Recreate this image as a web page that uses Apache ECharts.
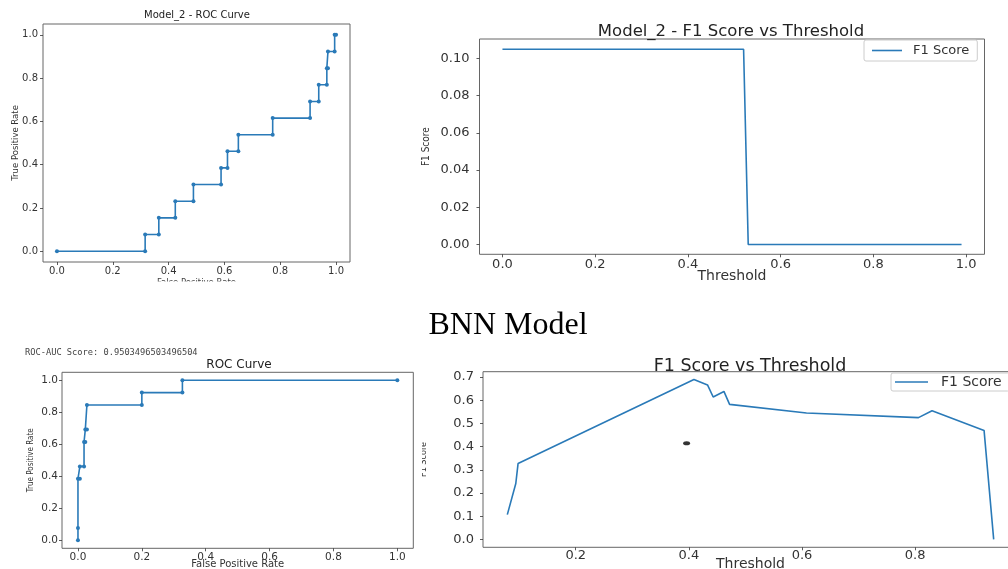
<!DOCTYPE html>
<html>
<head>
<meta charset="utf-8">
<script src="https://cdn.jsdelivr.net/npm/echarts@6.0.0/dist/echarts.min.js"></script>
<style>
html, body { margin: 0; padding: 0; background: #fff; }
#main { width: 1008px; height: 569px; }
</style>
</head>
<body>
<div id="main"></div>
<script>
// Model_2 ROC curve points
var roc2Fpr = [0, 0.316, 0.316, 0.365, 0.365, 0.424, 0.424, 0.489, 0.489, 0.588, 0.588, 0.611, 0.611, 0.650,
    0.650, 0.773, 0.773, 0.907, 0.907, 0.938, 0.938, 0.967, 0.967, 0.971, 0.971, 0.995, 0.995, 1.0];
var roc2Tpr = [0, 0, 0.077, 0.077, 0.154, 0.154, 0.231, 0.231, 0.308, 0.308, 0.385, 0.385, 0.462, 0.462,
    0.538, 0.538, 0.615, 0.615, 0.692, 0.692, 0.769, 0.769, 0.846, 0.846, 0.923, 0.923, 1.0, 1.0];

// Model_2 F1 vs threshold
var f1m2Thr = [0, 0.52, 0.53, 0.99];
var f1m2Val = [0.105, 0.105, 0, 0];

// BNN ROC curve points
var rocFpr = [0, 0, 0, 0.006, 0.006, 0.019, 0.019, 0.023, 0.023, 0.028, 0.028, 0.2, 0.2, 0.327, 0.327, 1.0];
var rocTpr = [0, 0.077, 0.385, 0.385, 0.462, 0.462, 0.615, 0.615, 0.692, 0.692, 0.846, 0.846, 0.923, 0.923, 1.0, 1.0];

// BNN F1 vs threshold
var f1Thr = [0.079, 0.094, 0.098, 0.409, 0.433, 0.443, 0.462, 0.472, 0.608, 0.806, 0.830, 0.922, 0.939];
var f1Val = [0.107, 0.241, 0.327, 0.689, 0.666, 0.614, 0.638, 0.582, 0.545, 0.525, 0.555, 0.470, 0.0];

// stray mark on the BNN F1 plot
var dotThr = [0.396];
var dotVal = [0.415];

// tick labels
var ticksUnit = [0, 0.2, 0.4, 0.6, 0.8, 1.0];
var ticksF1m2 = [0, 0.02, 0.04, 0.06, 0.08, 0.10];
var ticksThr = [0.2, 0.4, 0.6, 0.8];
var ticksF1 = [0, 0.1, 0.2, 0.3, 0.4, 0.5, 0.6, 0.7];

var blue = '#2a7ab8';
var condensed = "'DejaVu Sans Condensed', 'Liberation Sans Narrow', sans-serif";

function pairs(xs, ys) {
    return xs.map(function (x, i) { return [x, ys[i]]; });
}

function valAxis(gi, min, max, ticks, digits, fontSize, margin, name, nameGap, nameStyle) {
    return {
        type: 'value',
        gridIndex: gi,
        min: min,
        max: max,
        axisLine: {show: false, onZero: false},
        splitLine: {show: false},
        axisTick: {show: true, length: 3, customValues: ticks, lineStyle: {color: '#333', width: 0.8}},
        axisLabel: {
            customValues: ticks,
            margin: margin,
            color: '#333',
            fontSize: fontSize,
            fontFamily: 'DejaVu Sans',
            formatter: function (v) { return Number(v).toFixed(digits); }
        },
        name: name,
        nameLocation: 'middle',
        nameGap: nameGap,
        nameMoveOverlap: false,
        nameTextStyle: nameStyle
    };
}

function gridBox(left, top, width, height) {
    return {
        left: left, top: top, width: width, height: height,
        show: true, borderColor: '#666', borderWidth: 1,
        containLabel: false, outerBoundsMode: 'none'
    };
}

function titleAt(text, x, y, size, extra) {
    var t = {
        text: text, left: x, top: y, textAlign: 'center', padding: 0,
        textStyle: {fontSize: size, fontWeight: 'normal', fontFamily: 'DejaVu Sans', color: '#222'}
    };
    if (extra) {
        for (var k in extra) t.textStyle[k] = extra[k];
    }
    return t;
}

var chart = echarts.init(document.getElementById('main'));

var option = {
    animation: false,
    backgroundColor: '#fff',
    title: [
        titleAt('Model_2 - ROC Curve', 197, 10, 10),
        titleAt('Model_2 - F1 Score vs Threshold', 731, 23, 16.5),
        titleAt('BNN Model', 508, 310, 32, {fontFamily: "'Liberation Serif', serif", color: '#000'}),
        {
            text: 'ROC-AUC Score: 0.9503496503496504', left: 25, top: 348, padding: 0,
            textStyle: {fontSize: 8.7, fontWeight: 'normal', fontFamily: "'DejaVu Sans Mono', monospace", color: '#444'}
        },
        titleAt('ROC Curve', 239, 359, 12),
        titleAt('F1 Score vs Threshold', 750, 357, 17.5)
    ],
    legend: [
        {
            data: [{name: 'F1 Score', icon: 'rect'}], left: 864, top: 40, padding: [4, 8, 4, 8],
            borderColor: '#ccc', borderWidth: 1, borderRadius: 2,
            itemWidth: 30, itemHeight: 1.6, itemGap: 8,
            textStyle: {fontSize: 13, fontFamily: 'DejaVu Sans', color: '#333', padding: [0, 0, 0, 6]}
        },
        {
            data: [{name: 'F1 Score', icon: 'rect'}], left: 891, top: 373, padding: [2, 8, 2, 4],
            borderColor: '#ccc', borderWidth: 1, borderRadius: 2,
            itemWidth: 33, itemHeight: 1.6, itemGap: 8,
            textStyle: {fontSize: 14, fontFamily: 'DejaVu Sans', color: '#333', padding: [0, 0, 0, 8]}
        }
    ],
    grid: [
        gridBox(43, 24, 307, 238),
        gridBox(479.5, 39, 505, 215.3),
        gridBox(62, 372.3, 351.3, 176),
        gridBox(483, 371.7, 535, 175.6)
    ],
    xAxis: [
        valAxis(0, -0.05, 1.05, ticksUnit, 1, 10, 4, 'False Positive Rate', 16,
            {fontSize: 8.5, fontFamily: 'DejaVu Sans', color: '#444'}),
        valAxis(1, -0.0495, 1.0395, ticksUnit, 1, 13, 4, 'Threshold', 15.5,
            {fontSize: 14, fontFamily: 'DejaVu Sans', color: '#333'}),
        valAxis(2, -0.05, 1.05, ticksUnit, 1, 10.5, 3, 'False Positive Rate', 11,
            {fontSize: 10, fontFamily: 'DejaVu Sans', color: '#333'}),
        valAxis(3, 0.036, 0.982, ticksThr, 1, 13, 2, 'Threshold', 10,
            {fontSize: 14, fontFamily: 'DejaVu Sans', color: '#333'})
    ],
    yAxis: [
        valAxis(0, -0.05, 1.05, ticksUnit, 1, 10, 5, 'True Positive Rate', 23,
            {fontSize: 8.5, fontFamily: 'DejaVu Sans', color: '#333'}),
        valAxis(1, -0.0053, 0.1105, ticksF1m2, 2, 13, 10, 'F1 Score', 48,
            {fontSize: 10, fontFamily: condensed, color: '#333'}),
        valAxis(2, -0.05, 1.05, ticksUnit, 1, 10.5, 4, 'True Positive Rate', 27,
            {fontSize: 8, fontFamily: condensed, color: '#333'}),
        valAxis(3, -0.034, 0.723, ticksF1, 1, 13, 9, 'F1 Score', 55,
            {fontSize: 9, fontFamily: condensed, color: '#333'})
    ],
    series: [
        {
            name: 'Model_2 ROC', type: 'line', xAxisIndex: 0, yAxisIndex: 0,
            data: pairs(roc2Fpr, roc2Tpr),
            symbol: 'circle', symbolSize: 4, showAllSymbol: true,
            itemStyle: {color: blue}, lineStyle: {color: blue, width: 1.6}
        },
        {
            name: 'F1 Score', type: 'line', xAxisIndex: 1, yAxisIndex: 1,
            data: pairs(f1m2Thr, f1m2Val),
            symbol: 'none', itemStyle: {color: blue}, lineStyle: {color: blue, width: 1.6}
        },
        {
            name: 'BNN ROC', type: 'line', xAxisIndex: 2, yAxisIndex: 2,
            data: pairs(rocFpr, rocTpr),
            symbol: 'circle', symbolSize: 4, showAllSymbol: true,
            itemStyle: {color: blue}, lineStyle: {color: blue, width: 1.6}
        },
        {
            name: 'F1 Score', type: 'line', xAxisIndex: 3, yAxisIndex: 3,
            data: pairs(f1Thr, f1Val),
            symbol: 'none', itemStyle: {color: blue}, lineStyle: {color: blue, width: 1.6}
        },
        {
            name: 'mark', type: 'scatter', xAxisIndex: 3, yAxisIndex: 3,
            data: pairs(dotThr, dotVal),
            symbol: 'circle', symbolSize: [7, 4], itemStyle: {color: '#000'}
        }
    ],
    graphic: [
        // the source picture is cropped through these two labels
        {type: 'rect', z: 100, shape: {x: 60, y: 281.5, width: 300, height: 14}, style: {fill: '#fff'}},
        {type: 'rect', z: 100, shape: {x: 415, y: 425, width: 7, height: 60}, style: {fill: '#fff'}}
    ]
};

chart.setOption(option);
</script>
</body>
</html>
